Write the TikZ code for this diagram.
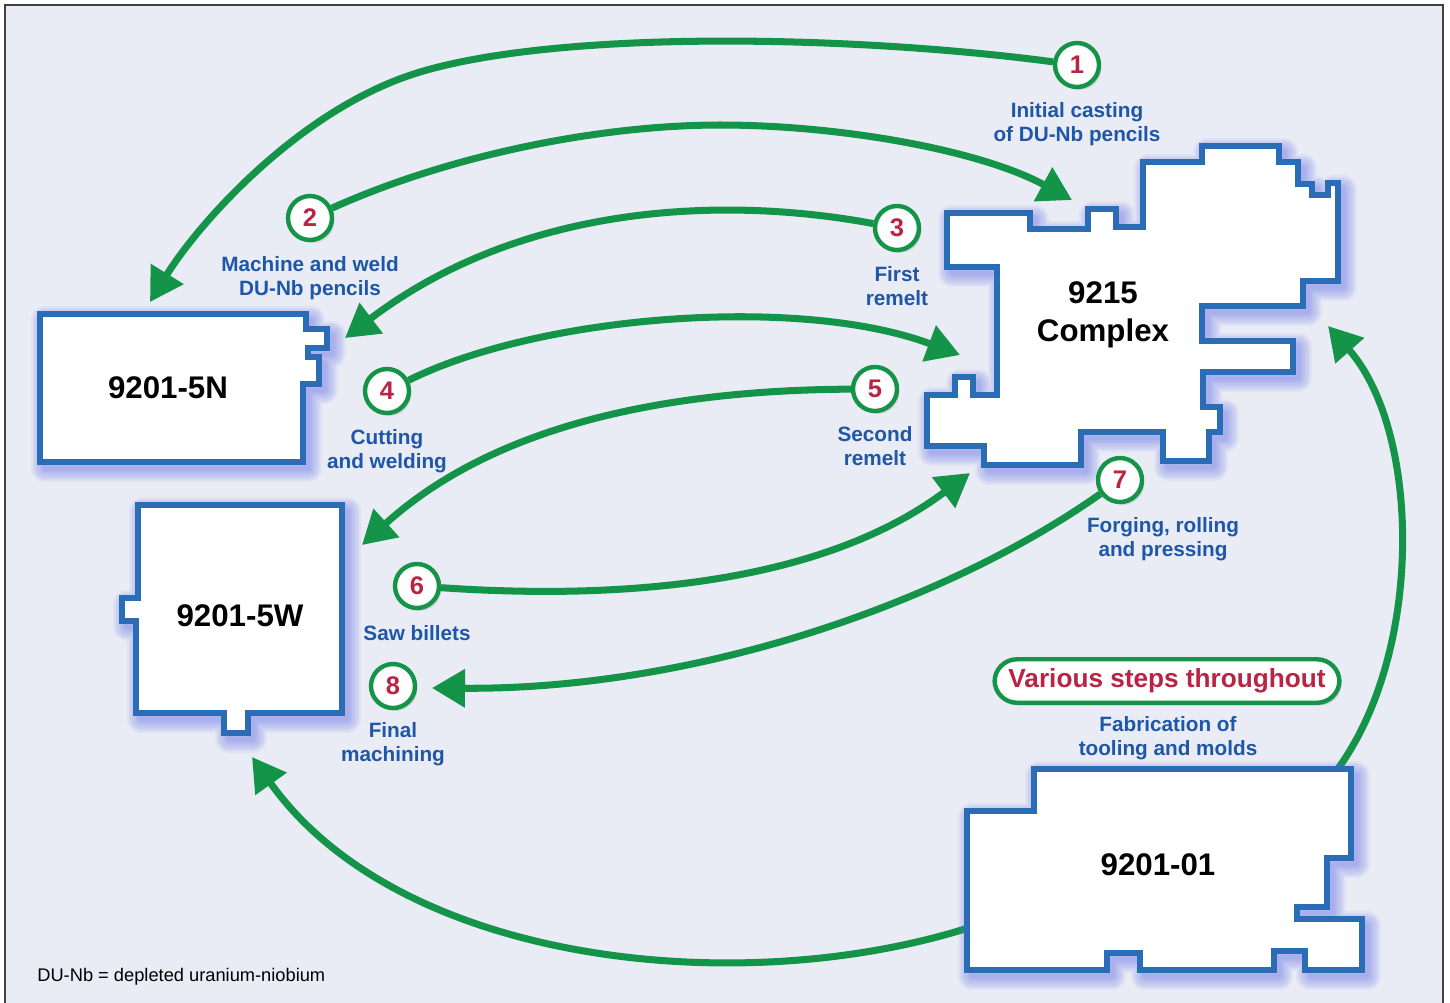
\documentclass[tikz,border=0pt]{standalone}
\usepackage{fontspec}
\setmainfont{Liberation Sans}
\usetikzlibrary{arrows.meta,shadows}

\definecolor{bgpanel}{RGB}{233,236,244}
\definecolor{pathgreen}{RGB}{20,148,72}
\definecolor{bldgblue}{RGB}{42,108,182}
\definecolor{glowblue}{RGB}{95,105,235}
\definecolor{labelblue}{RGB}{30,86,168}
\definecolor{stepred}{RGB}{184,36,66}

\pgfdeclarelayer{bg}
\pgfdeclarelayer{flows}
\pgfsetlayers{bg,flows,main}

% building outlines (pixel grid)
\newcommand{\outlineComplex}{(947,213) -- (1030,213) -- (1030,229) -- (1088,229) -- (1088,209) -- (1116,209) -- (1116,227) -- (1143,227) -- (1143,162) -- (1202,162) -- (1202,146) -- (1279,146) -- (1279,162) -- (1298,162) -- (1298,184) -- (1312,184) -- (1312,195) -- (1328,195) -- (1328,183) -- (1338,183) -- (1338,281) -- (1303,281) -- (1303,306) -- (1202,306) -- (1202,341) -- (1293,341) -- (1293,372) -- (1203,372) -- (1203,407) -- (1220,407) -- (1220,432) -- (1209,432) -- (1209,461) -- (1163,461) -- (1163,432) -- (1081,432) -- (1081,465) -- (984,465) -- (984,446) -- (927,446) -- (927,395) -- (955,395) -- (955,377) -- (973,377) -- (973,395) -- (997,395) -- (997,267) -- (947,267) -- cycle}
\newcommand{\outlineNorth}{(40,314) -- (306,314) -- (306,329) -- (327,329) -- (327,348) -- (308,348) -- (308,357) -- (319,357) -- (319,384) -- (303,384) -- (303,462) -- (40,462) -- cycle}
\newcommand{\outlineWest}{(138,505) -- (342,505) -- (342,713) -- (248,713) -- (248,733) -- (224,733) -- (224,713) -- (136,713) -- (136,621) -- (122,621) -- (122,598) -- (138,598) -- cycle}
\newcommand{\outlineOne}{(1034,769) -- (1351,769) -- (1351,858) -- (1327,858) -- (1327,907) -- (1297,907) -- (1297,919) -- (1362,919) -- (1362,970) -- (1305,970) -- (1305,951) -- (1274,951) -- (1274,970) -- (1140,970) -- (1140,953) -- (1107,953) -- (1107,970) -- (967,970) -- (967,811) -- (1034,811) -- cycle}
\newcommand{\drawbldg}[1]{%
  \foreach \w in {2,4,...,16} {\draw[glow=\w pt, shift={(5,6)}] #1;}
  \draw[bldg] #1;}

\begin{document}
\begin{tikzpicture}[x=0.02cm, y=-0.02cm,
  >={Triangle[length=0.66cm,width=0.74cm]},
  flow/.style={->, draw=pathgreen, line width=4pt},
  bldg/.style={draw=bldgblue, fill=white, line width=3.4pt},
  glow/.style={draw=glowblue, line width=#1, opacity=0.07, line join=round},
  bname/.style={font=\bfseries\fontsize{17.8}{21.5}\selectfont, align=center},
  stepnum/.style={circle, draw=pathgreen, line width=2.5pt, fill=white, minimum size=0.88cm, inner sep=0pt,
    text=stepred, font=\bfseries\fontsize{14.5}{14.5}\selectfont,
    drop shadow={opacity=0.3, shadow xshift=1.3pt, shadow yshift=-1.6pt}},
  lbl/.style={text=labelblue, font=\bfseries\fontsize{11.8}{13.6}\selectfont, align=center}]
  \useasboundingbox (0,0) rectangle (1450,1002);

  \begin{pgfonlayer}{bg}
    \fill[white] (0,0) rectangle (1450,1002);
    \draw[fill=bgpanel, draw=black!75, line width=1pt] (5,5) rectangle (1443,1015);
  \end{pgfonlayer}

  % buildings
  \drawbldg{\outlineComplex}
  \drawbldg{\outlineNorth}
  \drawbldg{\outlineWest}
  \drawbldg{\outlineOne}

  \node (cx)  at (1103,315) [bname] {9215\\Complex};
  \node (n5N) at (168,388)  [bname] {9201-5N};
  \node (n5W) at (240,616)  [bname] {9201-5W};
  \node (n01) at (1158,865) [bname] {9201-01};

  % steps
  \node (s1) at (1077,65)  [stepnum] {1};
  \node (s2) at (310,218)  [stepnum] {2};
  \node (s3) at (897,228)  [stepnum] {3};
  \node (s4) at (387,391)  [stepnum] {4};
  \node (s5) at (875,389)  [stepnum] {5};
  \node (s6) at (417,586)  [stepnum] {6};
  \node (s7) at (1120,480) [stepnum] {7};
  \node (s8) at (393,686)  [stepnum] {8};

  \node (l1) at (1077,124) [lbl] {Initial casting\\of DU-Nb pencils};
  \node (l2) at (310,278)  [lbl] {Machine and weld\\DU-Nb pencils};
  \node (l3) at (897,286)  [lbl] {First\\remelt};
  \node (l4) at (387,451)  [lbl] {Cutting\\and welding};
  \node (l5) at (875,446)  [lbl] {Second\\remelt};
  \node (l6) at (417,633)  [lbl] {Saw billets};
  \node (l7) at (1163,539) [lbl] {Forging, rolling\\and pressing};
  \node (l8) at (393,744)  [lbl] {Final\\machining};
  \node (tool) at (1168,738) [lbl] {Fabrication of\\tooling and molds};

  \node (various) at (1167,681) [draw=pathgreen, line width=2.5pt, fill=white, rounded corners=0.45cm,
    minimum width=6.9cm, minimum height=0.87cm, text=stepred, font=\bfseries\fontsize{14.9}{15}\selectfont,
    drop shadow={opacity=0.3, shadow xshift=1.3pt, shadow yshift=-1.6pt}] {Various steps throughout};

  \node (note) at (37,977) [anchor=west, inner sep=0pt, font=\fontsize{10.4}{12}\selectfont] {DU-Nb = depleted uranium-niobium};

  % arrow ends
  \coordinate (to5Na) at (150,302);
  \coordinate (toCxa) at (1072,200);
  \coordinate (to5Nb) at (345,338);
  \coordinate (toCxb) at (960,355);
  \coordinate (to5Wa) at (362,545);
  \coordinate (toCxc) at (970,473);
  \coordinate (to8)   at (432,688);
  \coordinate (from01a) at (1337,770);
  \coordinate (toCxd) at (1328,326);
  \coordinate (from01b) at (968,928);
  \coordinate (to5Wb) at (252,757);

  \begin{pgfonlayer}{flows}
    \draw[flow] (s1) .. controls (850,35) and (560,30) .. (420,72) .. controls (300,108) and (198,224) .. (to5Na);
    \draw[flow] (s2) .. controls (450,155) and (600,125) .. (720,125) .. controls (840,125) and (980,150) .. (toCxa);
    \draw[flow] (s3) .. controls (720,195) and (520,205) .. (to5Nb);
    \draw[flow] (s4) .. controls (540,315) and (800,295) .. (toCxb);
    \draw[flow] (s5) .. controls (680,390) and (500,420) .. (to5Wa);
    \draw[flow] (s6) .. controls (620,600) and (820,585) .. (toCxc);
    \draw[flow] (s7) .. controls (950,600) and (700,690) .. (to8);
    \draw[flow] (from01a) .. controls (1425,650) and (1420,430) .. (toCxd);
    \draw[flow] (from01b) .. controls (740,1000) and (400,965) .. (to5Wb);
  \end{pgfonlayer}
\end{tikzpicture}
\end{document}
